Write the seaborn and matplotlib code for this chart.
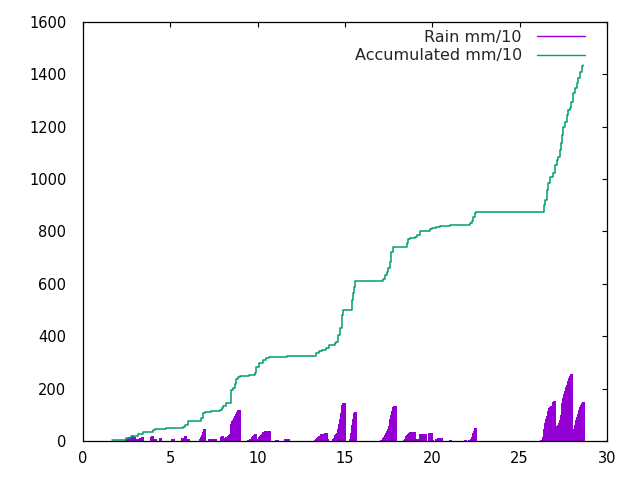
import numpy as np
import pandas as pd
import matplotlib
matplotlib.use("Agg")
import matplotlib.pyplot as plt
import seaborn as sns
from matplotlib.lines import Line2D

# ---------------- data ----------------
STEP = 0.05  # sampling interval of the rain record (days)

rain_starts = [2.45, 2.92, 3.10, 3.90, 4.43, 5.10, 5.65, 6.70, 7.20, 7.90,
               9.45, 10.65, 11.05, 11.55, 13.30, 14.30, 15.30, 17.05, 18.40,
               21.00, 21.85, 22.10, 26.20, 27.00, 28.00]
rain_values = [
    [4, 6, 8, 12, 15, 17, 17, 18],
    [15],
    [7, 7, 0, 10, 12, 14, 15],
    [14, 18, 8, 8, 7],
    [13],
    [6, 7],
    [10, 12, 0, 0, 21, 0, 0, 7],
    [8, 14, 24, 34, 42, 46],
    [6, 8, 0, 8, 0, 9, 0, 8],
    [16, 18, 6, 10, 12, 12, 14, 15, 18, 22, 28, 40, 65, 75, 82, 88, 95, 105,
     112, 116, 118, 120],
    [4, 5, 6, 8, 10, 14, 18, 22, 27, 8, 6, 8, 12, 17, 20, 23, 28, 33, 36, 38, 38],
    [40],
    [4, 4],
    [6, 0, 6, 0, 6],
    [4, 7, 11, 15, 18, 20, 24, 26, 26, 10, 28, 32, 32, 8],
    [8, 12, 17, 22, 25, 30, 45, 65, 85, 106, 122, 138, 144, 146],
    [6, 30, 60, 85, 108, 112],
    [3, 5, 8, 12, 17, 22, 29, 37, 45, 56, 67, 85, 99, 115, 128, 134, 135],
    [3, 8, 19, 24, 28, 32, 32, 33, 33, 33, 34, 36, 0, 8, 8, 8, 0, 0, 27, 0,
     27, 27, 0, 0, 27, 0, 0, 0, 32, 0, 32, 0, 3, 0, 0, 0, 9, 0, 0, 13, 0, 0, 13],
    [3],
    [3],
    [2, 4, 8, 14, 20, 29, 38, 48],
    [2, 3, 5, 14, 45, 68, 85, 95, 105, 115, 125, 131, 133, 135, 148, 153],
    [28, 38, 50, 56, 60, 68, 80, 98, 118, 145, 166, 180, 190, 205, 215, 228,
     236, 242, 248, 256],
    [25, 35, 45, 60, 70, 80, 92, 104, 118, 130, 138, 145, 149],
]

acc_x = [1.68, 2.45, 2.48, 2.60, 2.77, 3.12, 3.15, 3.40, 3.43, 3.95, 4.00, 4.10,
         4.75, 4.77, 5.10, 5.70, 5.82, 6.00, 6.72, 6.77, 6.87, 7.00, 7.30, 7.60,
         7.82, 7.95, 8.01, 8.20, 8.36, 8.45, 8.49, 8.60, 8.70, 8.78, 8.90, 8.97,
         9.50, 9.83, 9.92, 10.10, 10.30, 10.49, 10.65, 11.70, 13.30, 13.36, 13.50,
         13.70, 13.90, 14.08, 14.40, 14.50, 14.62, 14.70, 14.81, 14.90, 15.32,
         15.38, 15.45, 15.50, 15.57, 17.10, 17.19, 17.30, 17.38, 17.47, 17.57,
         17.66, 17.76, 18.43, 18.53, 18.62, 18.72, 19.00, 19.15, 19.29, 19.86,
         20.00, 20.20, 20.43, 21.00, 22.06, 22.15, 22.25, 22.35, 22.43, 22.48,
         24.35, 26.35, 26.39, 26.45, 26.54, 26.63, 26.73, 26.85, 26.92, 27.02,
         27.12, 27.20, 27.30, 27.38, 27.45, 27.49, 27.58, 27.69, 27.78, 27.88,
         27.95, 28.07, 28.16, 28.26, 28.35, 28.45, 28.55, 28.60]
acc_y = [3, 3, 10, 12, 19, 19, 25, 28, 34, 34, 42, 45,
         45, 48, 50, 52, 61, 75, 75, 87, 106, 112, 113, 116,
         118, 125, 134, 144, 146, 163, 195, 201, 218, 235, 246, 248,
         252, 258, 284, 297, 310, 318, 320, 324, 324, 335, 342,
         348, 354, 367, 373, 379, 405, 430, 481, 500, 500,
         538, 564, 589, 611, 611, 617, 634, 647, 659, 685,
         723, 742, 742, 755, 770, 774, 780, 785, 803, 808,
         812, 816, 821, 825, 826, 831, 841, 857, 869, 874,
         876, 876, 901, 920, 958, 984, 1007, 1010, 1025, 1054,
         1073, 1086, 1111, 1137, 1168, 1198, 1219, 1245, 1264, 1270,
         1296, 1327, 1347, 1366, 1385, 1410, 1433, 1436]

x_ticks = [0, 5, 10, 15, 20, 25, 30]
y_ticks = [0, 200, 400, 600, 800, 1000, 1200, 1400, 1600]
series_labels = ["Rain mm/10", "Accumulated mm/10"]

PURPLE = "#9400d3"
GREEN = "#009e73"

# ---------------- build tables ----------------
rx, ry = [], []
for s, vals in zip(rain_starts, rain_values):
    for i, v in enumerate(vals):
        rx.append(s + i * STEP)
        ry.append(v)
rain_df = pd.DataFrame({"day": rx, "value": ry})
acc_df = pd.DataFrame({"day": acc_x, "value": acc_y})

# ---------------- plot ----------------
sns.set_theme(style="white")
plt.rcParams["font.family"] = ["DejaVu Sans"]

fig, ax = plt.subplots(figsize=(6.4, 4.8), dpi=100)
fig.subplots_adjust(left=83 / 640, right=607 / 640, bottom=39 / 480, top=458 / 480)

ax.vlines(rain_df["day"], 0, rain_df["value"], color=PURPLE, lw=1.0,
          antialiased=False)
sns.lineplot(data=acc_df, x="day", y="value", drawstyle="steps-post",
             estimator=None, sort=False, color=GREEN, lw=1.1, ax=ax, legend=False)

ax.set_xlim(0, 30)
ax.set_ylim(0, 1600)
ax.set_xticks(x_ticks)
ax.set_yticks(y_ticks)
ax.set_xlabel("")
ax.set_ylabel("")
for sp in ax.spines.values():
    sp.set_color("black")
    sp.set_linewidth(0.9)
ax.tick_params(direction="in", length=3.3, width=0.8, color="black",
               top=True, right=True, labelsize=10.5, labelcolor="black")
ax.tick_params(axis="y", pad=12)
ax.tick_params(axis="x", pad=7)

handles = [Line2D([], [], color=PURPLE, lw=1.0), Line2D([], [], color=GREEN, lw=1.0)]
ax.legend(handles, series_labels, loc="upper right", frameon=False,
          markerfirst=False, handlelength=3.0, handletextpad=0.95,
          fontsize=11.5, borderaxespad=0, borderpad=0, labelspacing=0.2,
          bbox_to_anchor=((585 - 83) / 524, (441 - 30) / 419))

fig.savefig("out.png", dpi=100)
